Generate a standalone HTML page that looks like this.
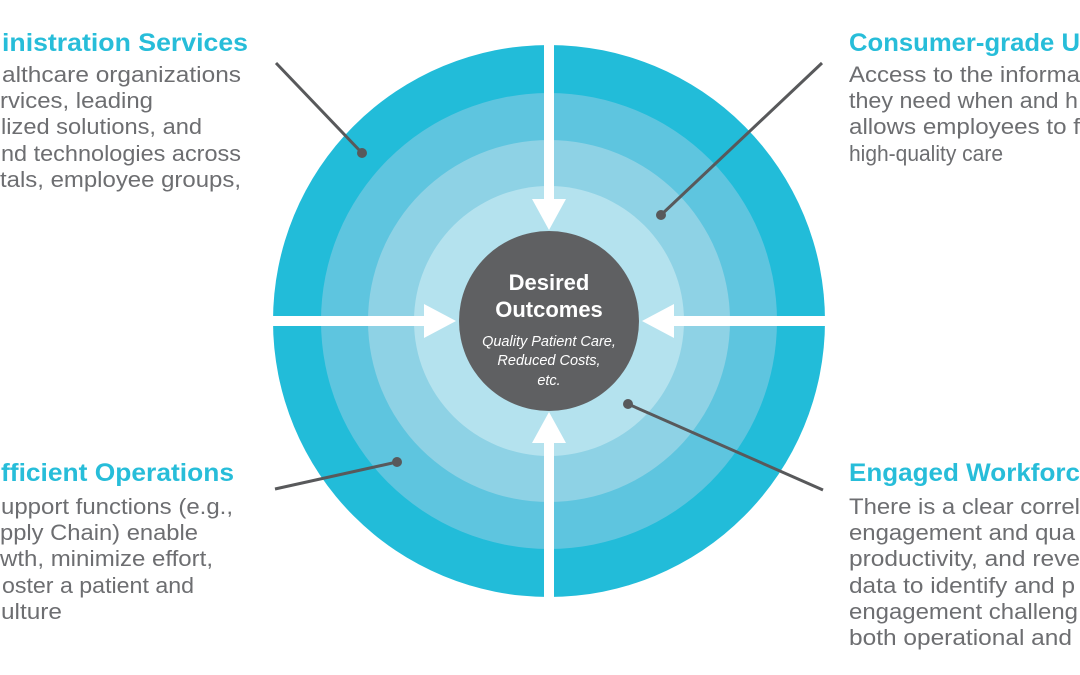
<!DOCTYPE html>
<html><head><meta charset="utf-8"><style>
html,body{margin:0;padding:0;background:#fff;}
svg{display:block;}
.h{font-family:"Liberation Sans",sans-serif;font-weight:bold;font-size:25px;fill:#27bdd9;}
.b{font-family:"Liberation Sans",sans-serif;font-size:22px;fill:#6d6e71;}
</style></head><body>
<svg width="1080" height="675" viewBox="0 0 1080 675" xmlns="http://www.w3.org/2000/svg">
<circle cx="549" cy="321" r="276" fill="#22bcd9"/>
<circle cx="549" cy="321" r="228" fill="#5ec5df"/>
<circle cx="549" cy="321" r="181" fill="#8ed2e5"/>
<circle cx="549" cy="321" r="135" fill="#b4e2ee"/>
<circle cx="549" cy="321" r="90" fill="#5f6062"/>
<rect x="544" y="40" width="10" height="165" fill="#fff"/>
<rect x="544" y="438" width="10" height="240" fill="#fff"/>
<rect x="270" y="316" width="160" height="10" fill="#fff"/>
<rect x="668" y="316" width="162" height="10" fill="#fff"/>
<polygon points="532,199 566,199 549,230" fill="#fff"/>
<polygon points="532,443 566,443 549,412" fill="#fff"/>
<polygon points="424,304 424,338 456,321" fill="#fff"/>
<polygon points="674,304 674,338 642,321" fill="#fff"/>
<text x="549" y="290" text-anchor="middle" font-family="Liberation Sans,sans-serif" font-weight="bold" font-size="22" fill="#fff">Desired</text>
<text x="549" y="317" text-anchor="middle" font-family="Liberation Sans,sans-serif" font-weight="bold" font-size="22" fill="#fff">Outcomes</text>
<g font-family="Liberation Sans,sans-serif" font-style="italic" font-size="14.5" fill="#fff" text-anchor="middle">
<text x="549" y="346">Quality Patient Care,</text>
<text x="549" y="365">Reduced Costs,</text>
<text x="549" y="385">etc.</text>
</g>
<g stroke="#58595b" stroke-width="3" fill="none">
<line x1="276" y1="63" x2="362" y2="153"/>
<line x1="822" y1="63" x2="661" y2="215"/>
<line x1="275" y1="489" x2="397" y2="462"/>
<line x1="823" y1="490" x2="628" y2="404"/>
</g>
<g fill="#58595b">
<circle cx="362" cy="153" r="5"/><circle cx="661" cy="215" r="5"/>
<circle cx="397" cy="462" r="5"/><circle cx="628" cy="404" r="5"/>
</g>
<g>
<text class="h" x="2" y="51" textLength="246" lengthAdjust="spacingAndGlyphs">inistration Services</text>
<text class="b" x="2" y="82" textLength="239" lengthAdjust="spacingAndGlyphs">althcare organizations</text>
<text class="b" x="0" y="108" textLength="153" lengthAdjust="spacingAndGlyphs">rvices, leading</text>
<text class="b" x="1" y="134" textLength="201" lengthAdjust="spacingAndGlyphs">lized solutions, and</text>
<text class="b" x="1" y="161" textLength="240" lengthAdjust="spacingAndGlyphs">nd technologies across</text>
<text class="b" x="0" y="187" textLength="241" lengthAdjust="spacingAndGlyphs">tals, employee groups,</text>

<text class="h" x="849" y="51" textLength="231" lengthAdjust="spacingAndGlyphs">Consumer-grade U</text>
<text class="b" x="849" y="82" textLength="231" lengthAdjust="spacingAndGlyphs">Access to the informa</text>
<text class="b" x="849" y="108" textLength="229" lengthAdjust="spacingAndGlyphs">they need when and h</text>
<text class="b" x="849" y="134" textLength="231" lengthAdjust="spacingAndGlyphs">allows employees to f</text>
<text class="b" x="849" y="161" textLength="154" lengthAdjust="spacingAndGlyphs">high-quality care</text>

<text class="h" x="1" y="481" textLength="233" lengthAdjust="spacingAndGlyphs">fficient Operations</text>
<text class="b" x="1" y="514" textLength="232" lengthAdjust="spacingAndGlyphs">upport functions (e.g.,</text>
<text class="b" x="0" y="540" textLength="198" lengthAdjust="spacingAndGlyphs">pply Chain) enable</text>
<text class="b" x="0" y="566" textLength="213" lengthAdjust="spacingAndGlyphs">wth, minimize effort,</text>
<text class="b" x="2" y="593" textLength="192" lengthAdjust="spacingAndGlyphs">oster a patient and</text>
<text class="b" x="1" y="619" textLength="61" lengthAdjust="spacingAndGlyphs">ulture</text>

<text class="h" x="849" y="481" textLength="231" lengthAdjust="spacingAndGlyphs">Engaged Workforc</text>
<text class="b" x="849" y="514" textLength="231" lengthAdjust="spacingAndGlyphs">There is a clear correl</text>
<text class="b" x="849" y="540" textLength="226" lengthAdjust="spacingAndGlyphs">engagement and qua</text>
<text class="b" x="849" y="566" textLength="231" lengthAdjust="spacingAndGlyphs">productivity, and reve</text>
<text class="b" x="849" y="593" textLength="226" lengthAdjust="spacingAndGlyphs">data to identify and p</text>
<text class="b" x="849" y="619" textLength="229" lengthAdjust="spacingAndGlyphs">engagement challeng</text>
<text class="b" x="849" y="645" textLength="223" lengthAdjust="spacingAndGlyphs">both operational and</text>
</g>
</svg>
</body></html>
